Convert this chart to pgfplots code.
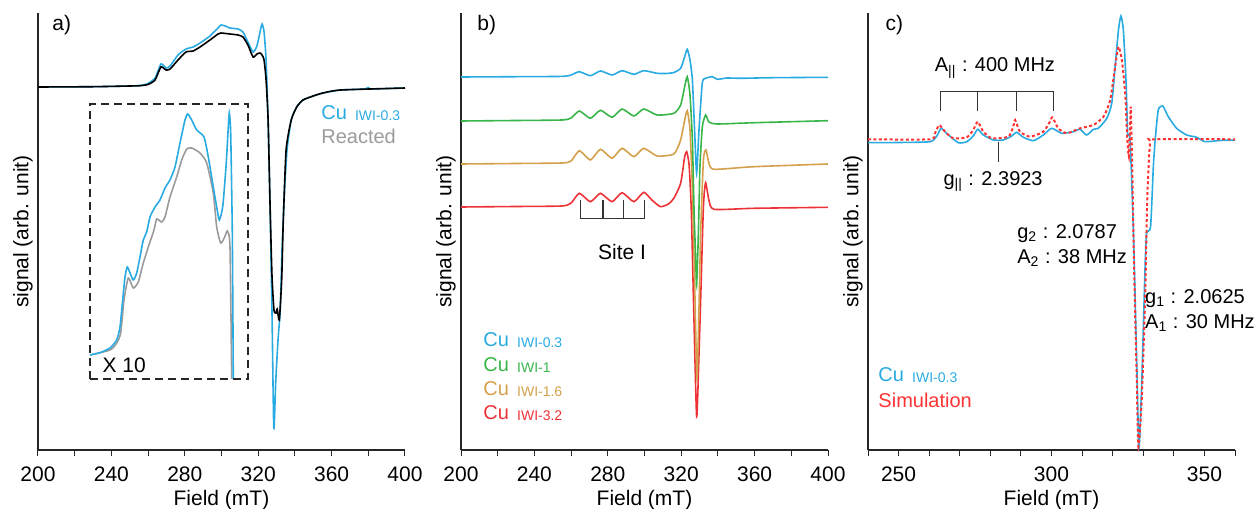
\documentclass[border=0pt]{standalone}
\usepackage{fontspec}
\setmainfont{Liberation Sans}
\usepackage{pgfplots}
\pgfplotsset{compat=1.18}

\definecolor{cublue}{HTML}{29ABE2}
\definecolor{cugray}{HTML}{9B9B9B}
\definecolor{cugreen}{HTML}{39B54A}
\definecolor{cuorange}{HTML}{D4A04C}
\definecolor{cured}{HTML}{ED3237}
\definecolor{simred}{HTML}{FF3333}
\definecolor{annot}{HTML}{333333}

\newcommand{\sub}[1]{\hspace{1.3pt}\raisebox{-0.6pt}{\fontsize{7}{8}\selectfont #1}}

\tikzset{lbl/.style={anchor=west, inner sep=0pt}}

\pgfplotsset{
  eprax/.style={
    scale only axis, width=183.5pt, height=218.5pt,
    ymin=0, ymax=437,
    axis x line=bottom, axis y line=left,
    axis line style={-, line width=0.6pt, black!85},
    ytick=\empty,
    tick align=outside, major tick length=3pt, minor tick length=3pt,
    tick style={line width=0.5pt, black!85},
    xticklabel style={font=\fontsize{10.5}{12}\selectfont, yshift=-2pt},
    /pgf/number format/assume math mode=true,
    /pgf/number format/1000 sep={},
    xlabel={Field (mT)}, ylabel={signal (arb. unit)},
    label style={font=\fontsize{10.5}{12}\selectfont},
    xlabel style={at={(axis description cs:0.5,-0.115)}, anchor=center},
    ylabel style={at={(axis description cs:-0.041,0.5)}, anchor=center},
    clip=false,
    every axis plot/.append style={line width=0.8pt, smooth, tension=0.35},
  },
}

\begin{document}
\begin{tikzpicture}[font=\fontsize{10}{12}\selectfont]
\path[use as bounding box] (-19pt,-29.5pt) rectangle (608.5pt,225pt);

% ---------------- a)
\begin{axis}[eprax, xmin=200, xmax=400,
  xtick={200,240,...,400}, minor xtick={220,260,...,380}]
\addplot[cublue] coordinates {
 (200,363) (230,363.3) (250,364) (255.6,364.5) (259.9,366.5) (263.8,372) (267,386) (269.8,382) (272,384)
 (276.3,395) (280.7,401) (284.5,403) (288.3,407) (293.7,414) (298.1,422) (299.7,425) (302,424) (304.6,422)
 (309,421) (311.7,418) (314.4,408) (317.2,398) (319.3,404) (321,418) (322.1,426) (323.2,418) (324.3,390)
 (325.4,330) (326.4,250) (327.5,140) (328.5,22) (329.6,70) (330.8,110) (332,140) (333,200) (334.1,250)
 (335.7,300) (338,330) (341,343) (344.4,350) (350,354) (355.3,357) (365,360) (378,361) (380,362.5) (382,361) (400,362)};
\addplot[black] coordinates {
 (200,363) (230,363.3) (250,364) (255.6,364.3) (259.9,365.5) (263.8,370) (267,383) (269.8,380) (272,381)
 (276.3,390) (280.7,398) (284.5,399) (288.3,403) (293.7,410) (298.1,416) (299.7,417) (304.6,416) (309,415)
 (311.7,413) (314.4,405) (317.2,393) (319.3,396) (321,397) (322.1,395) (323.2,390) (324.3,370) (325.4,330)
 (326.4,250) (327.5,175) (328.6,140) (329.7,137) (330.4,141) (331.5,130) (332.8,170) (333.6,225) (335.2,300)
 (338,330) (341,343) (344.4,350) (350,354) (355.3,357) (365,360) (400,362)};
% inset x10
\addplot[cugray] coordinates {
 (228.34,95) (239.24,100) (242.89,107) (245.07,117) (246.87,150) (249.21,172) (251.93,162) (254.66,168)
 (257.38,187) (260.11,203) (263.21,220) (264.69,231) (267.41,228) (269.21,233) (271.93,253) (275.59,273)
 (278.31,290) (281.04,301) (283.76,302) (288.28,297) (291.93,287) (295.53,257) (297.38,223) (299.56,207)
 (301.74,213) (303.16,219) (304.63,203) (305.56,71)};
\addplot[cublue] coordinates {
 (228.34,95) (233.79,97.3) (239.24,102) (242.89,110) (244.69,123) (246.16,150) (247.41,173) (248.66,183)
 (250.14,177) (251.93,170) (253.79,177) (255.59,193) (257.38,210) (259.24,218) (261.04,233) (263.76,243)
 (266.49,250) (269.21,262) (271.93,270) (274.66,283) (277.38,307) (280.11,330) (281.58,336) (283.76,330)
 (286.49,320) (290.46,313) (292.81,293) (295.53,263) (297.38,243) (298.80,230) (300.65,243) (302.45,283)
 (303.71,323) (304.25,337) (305.01,317) (305.89,217) (306.43,71)};
\draw[black!85, line width=0.9pt, dash pattern=on 4pt off 2.5pt]
  (axis cs:228.3,71) rectangle (axis cs:314.4,346);
\node[lbl] at (axis cs:235,85) {\fontsize{10.5}{12}\selectfont X 10};
\node[lbl] at (axis cs:207.6,425) {\fontsize{10.5}{12}\selectfont a)};
\node[lbl, text=cublue] at (axis cs:354.2,337.3) {Cu \sub{IWI-0.3}};
\node[lbl, text=cugray] at (axis cs:354.2,313.3) {Reacted};
\end{axis}

% ---------------- b)
\begin{axis}[eprax, at={(211.5pt,0)}, xmin=200, xmax=400,
  xtick={200,240,...,400}, minor xtick={220,260,...,380}]
\addplot[cured] coordinates {
 (200,243) (230,243.5) (255,244) (260,247) (264.5,256.7) (270.5,248.3) (276,256.7) (282.3,248.3) (287.8,257.3)
 (294.2,248.3) (299.6,257.7) (304,250) (308.7,243.3) (313,246) (316,251.7) (319.7,266.7) (321.9,293.3) (323,298.3)
 (324.3,285) (325.5,240) (326.7,150) (328.4,33.3) (329.6,90) (330.6,150) (332.1,243) (333.3,267.3) (335.1,250)
 (337.9,240.7) (359.6,241.7) (400,242.7)};
\addplot[cuorange] coordinates {
 (200,286) (230,286.5) (255,287) (260,289) (264.5,299.3) (270.5,290) (276,300.7) (282.3,291.7) (287.8,301.7)
 (294.2,293.3) (299.6,301.7) (306.9,294) (316,296) (319.7,310) (321.9,330) (323.3,339.3) (324.8,320) (326.1,260)
 (327.3,170) (328.6,71.7) (329.8,150) (330.6,217) (332.1,290) (333.5,300) (335.1,287) (337.9,280.7) (359.6,283.3) (400,286)};
\addplot[cugreen] coordinates {
 (200,329) (230,329.5) (255,330) (260,332) (264.5,339) (270.5,331.7) (276,339.7) (282.3,332.7) (287.8,341)
 (294.2,334) (299.6,341) (306.9,335) (316,336.7) (319.7,345) (321.9,363.3) (323.3,373.3) (324.8,355) (326.1,310)
 (327,240) (327.9,190) (328.4,165) (329.1,200) (329.8,250) (330.2,283) (331.5,323) (333.3,335) (335.1,328)
 (339.7,326) (360,327.3) (400,329.3)};
\addplot[cublue] coordinates {
 (200,373) (230,373.3) (255,373.6) (260,375) (264.5,378.3) (270.5,374.3) (276,379) (282.3,375) (287.8,379.3)
 (294.2,375.7) (299.6,379.3) (306.9,376.7) (312,376.5) (316,377.5) (319.7,381.7) (321.9,393.3) (323.3,400.7)
 (324.8,390) (326.1,370) (327.3,320) (328.4,277) (329.7,320) (331.5,367) (333.3,371.7) (337,373.3) (339.7,370.7)
 (345,372) (352.5,371.7) (370,372.3) (400,372.7)};
\draw[annot, line width=0.6pt] (axis cs:265,250) -- (axis cs:265,231.7) -- (axis cs:300,231.7) -- (axis cs:300,250);
\draw[annot, line width=0.6pt] (axis cs:277.4,250) -- (axis cs:277.4,231.7);
\draw[annot, line width=0.6pt] (axis cs:288.7,250) -- (axis cs:288.7,231.7);
\node at (axis cs:287.8,198.3) {\fontsize{10.5}{12}\selectfont Site I};
\node[lbl] at (axis cs:208.7,425) {\fontsize{10.5}{12}\selectfont b)};
\node[lbl, text=cublue] at (axis cs:212,110) {Cu \sub{IWI-0.3}};
\node[lbl, text=cugreen] at (axis cs:212,85) {Cu \sub{IWI-1}};
\node[lbl, text=cuorange] at (axis cs:212,61) {Cu \sub{IWI-1.6}};
\node[lbl, text=cured] at (axis cs:212,37) {Cu \sub{IWI-3.2}};
\end{axis}

% ---------------- c)
\begin{axis}[eprax, at={(415pt,0)}, xmin=240, xmax=360,
  xtick={250,300,350}, minor xtick={240,260,270,280,290,310,320,330,340,360}]
\addplot[cublue] coordinates {
 (240,307.3) (250,307.5) (260.3,308.3) (262.5,314) (263.9,321.7) (265.7,316.7) (269.5,307.3) (272.3,308.3)
 (274.4,314) (275.9,320.7) (277.7,315) (281,310) (284.2,310) (287,314) (288.6,317.7) (290.8,312.7) (294.1,309.3)
 (297.3,315) (300.1,321.7) (303.3,316.7) (307.1,318.3) (309.3,320.7) (311.5,315) (313.7,320.7) (315.3,321.7)
 (318.1,331.7) (319.7,346.7) (320.8,383.3) (321.9,420) (322.7,434) (323.5,420) (324.4,366.7) (324.9,316.7)
 (325.7,310) (326.8,216.7) (327.9,83.3) (328.6,2) (329.5,66.7) (330.6,183.3) (331.1,216.7) (332.4,223.3)
 (333.3,283.3) (333.9,310) (334.9,340) (336.4,344) (338.2,333.3) (340.9,321.7) (344.2,315) (347.5,312.7)
 (350.2,308.3) (355,309.5) (360,310)};
\addplot[simred, line width=1pt, dash pattern=on 1.5pt off 1.2pt] coordinates {
 (240,310.7) (260.3,310.7) (261.9,316.7) (263.3,325) (265.2,318.3) (267.9,311.7) (272.3,312.7) (274.4,320)
 (275.9,328.3) (277.7,318.3) (280.5,311.7) (285.9,313.3) (287.5,323.3) (288.1,330) (289.7,318.3) (293,313.3)
 (297.3,318.3) (299.5,328.3) (300.3,332.7) (302.2,321.7) (305,316.7) (309.3,321.7) (313.7,325) (317,333.3)
 (319.2,350) (320.8,383.3) (321.9,403.3) (323,390) (324.1,356.7) (324.8,310) (325.3,293.3) (325.7,323.3)
 (325.9,343.3) (326.1,323.3) (326.4,283.3) (327,183.3) (327.9,66.7) (328.4,3.3) (329.5,50) (330.6,150)
 (331.3,250) (332.2,306.7) (333.3,310.7) (360,310.7)};
\draw[annot, line width=0.6pt] (axis cs:263.8,339.3) -- (axis cs:263.8,358.3) -- (axis cs:300.6,358.3) -- (axis cs:300.6,339.3);
\draw[annot, line width=0.6pt] (axis cs:275.9,339.3) -- (axis cs:275.9,358.3);
\draw[annot, line width=0.6pt] (axis cs:288.6,339.3) -- (axis cs:288.6,358.3);
\draw[annot, line width=0.6pt] (axis cs:282.6,308.3) -- (axis cs:282.6,288.3);
\node at (axis cs:281.5,382) {A\textsubscript{||} : 400 MHz};
\node at (axis cs:280.9,268.3) {g\textsubscript{||} : 2.3923};
\node[lbl] at (axis cs:288.7,216.7) {g\textsubscript{2} : 2.0787};
\node[lbl] at (axis cs:288.7,191.7) {A\textsubscript{2} : 38 MHz};
\node[lbl] at (axis cs:330.5,151.7) {g\textsubscript{1} : 2.0625};
\node[lbl] at (axis cs:330.5,126.7) {A\textsubscript{1} : 30 MHz};
\node[lbl] at (axis cs:245.6,425) {\fontsize{10.5}{12}\selectfont c)};
\node[lbl, text=cublue] at (axis cs:243.3,75) {Cu \sub{IWI-0.3}};
\node[lbl, text=simred] at (axis cs:243.3,50) {Simulation};
\end{axis}
\end{tikzpicture}
\end{document}
